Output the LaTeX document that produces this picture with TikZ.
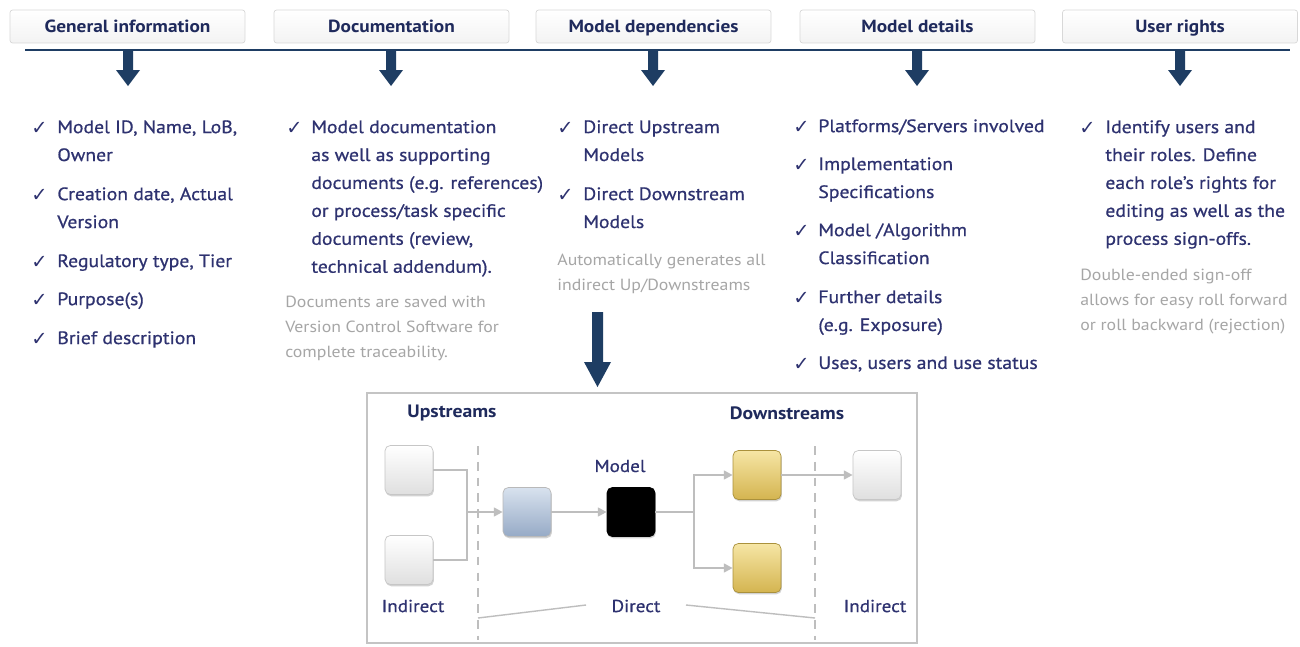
\documentclass[tikz,border=0pt]{standalone}
\usepackage{fontspec}
\setmainfont{PT Sans}[FakeStretch=1.1]
\newfontfamily\bodyf{PT Sans}[FakeStretch=1.1,FakeBold=0.7]
\newfontfamily\symf{DejaVu Sans}
\usetikzlibrary{arrows.meta,shadows}
\definecolor{navy}{HTML}{2E3270}
\definecolor{hdrtext}{HTML}{1F2A5C}
\definecolor{arrowblue}{HTML}{1E3D63}
\definecolor{notegray}{HTML}{A6A6A6}
\definecolor{hdrfill}{HTML}{F3F3F3}
\definecolor{hdrline}{HTML}{D8D8D8}
\definecolor{connc}{HTML}{BEBEBE}
\definecolor{frame}{HTML}{C4C4C4}
\begin{document}
\begin{tikzpicture}[x=0.02cm,y=-0.02cm,
  hdr/.style={draw=hdrline, top color=white, bottom color=hdrfill, rounded corners=1.5pt,
    minimum width=4.7cm, minimum height=0.66cm, inner sep=0, text height=8.2pt, text depth=1pt,
    text=hdrtext, font=\bfseries\fontsize{10}{11}\selectfont},
  item/.style={anchor=north west, inner sep=0, align=left, text=navy,
    font=\bodyf\fontsize{10.2}{15.9}\selectfont},
  note/.style={anchor=north west, inner sep=0, align=left, text=notegray,
    font=\fontsize{9.2}{14.2}\selectfont},
  chk/.style={anchor=west, inner sep=0, text=navy, font=\symf\fontsize{11}{12}\selectfont},
  fat/.style={fill=arrowblue},
  mbox/.style={rounded corners=3pt, minimum width=0.96cm, minimum height=0.98cm, inner sep=0,
    drop shadow={shadow xshift=0.5pt, shadow yshift=-1pt, opacity=0.35}},
  wbox/.style={mbox, draw=gray!45, top color=white, bottom color=gray!25},
  bbox/.style={mbox, draw=gray!55, top color={rgb,255:red,216;green,226;blue,238}, bottom color={rgb,255:red,150;green,170;blue,198}},
  kbox/.style={mbox, draw=black, fill=black},
  gbox/.style={mbox, draw={rgb,255:red,170;green,145;blue,60}, top color={rgb,255:red,246;green,230;blue,165}, bottom color={rgb,255:red,212;green,180;blue,80}},
  conn/.style={draw=connc, line width=1.1pt},
  carr/.style={conn, -{Triangle[length=5pt,width=5pt]}},
  lbl/.style={inner sep=0, text=navy, font=\bodyf\fontsize{9.9}{11}\selectfont},
  blbl/.style={inner sep=0, text=hdrtext, font=\bfseries\fontsize{10.2}{11}\selectfont}
]
\useasboundingbox (0,0) rectangle (1300,646);
\fill[white] (0,0) rectangle (1300,646);

% headers
\node[hdr] (h1) at (127.5,26.5) {General information};
\node[hdr] (h2) at (391.5,26.5) {Documentation};
\node[hdr] (h3) at (653.5,26.5) {Model dependencies};
\node[hdr] (h4) at (917.5,26.5) {Model details};
\node[hdr] (h5) at (1180,26.5) {User rights};

% rule
\draw[arrowblue, line width=1.2pt] (25,50) -- (1290,50);

% fat arrows
\foreach \ax in {128,391,653,917,1180}{
  \fill[fat] (\ax-5,51) -- (\ax+5,51) -- (\ax+5,70) -- (\ax+12,70) -- (\ax,86) -- (\ax-12,70) -- (\ax-5,70) -- cycle;
}

% column 1
\node[chk] (c1a) at (31,128) {✓};
\node[item] (t1a) at (57,120) {Model ID, Name, LoB,\\Owner};
\node[chk] (c1b) at (31,195) {✓};
\node[item] (t1b) at (57,187) {Creation date, Actual\\Version};
\node[chk] (c1c) at (31,262) {✓};
\node[item] (t1c) at (57,254) {Regulatory type, Tier};
\node[chk] (c1d) at (31,300) {✓};
\node[item] (t1d) at (57,292) {Purpose(s)};
\node[chk] (c1e) at (31,339) {✓};
\node[item] (t1e) at (57,331) {Brief description};

% column 2
\node[chk] (c2a) at (286,128) {✓};
\node[item] (t2a) at (311,120) {Model documentation\\as well as supporting\\documents (e.g. references)\\or process/task specific\\documents (review,\\technical addendum).};
\node[note] (n2) at (285,296) {Documents are saved with\\Version Control Software for\\complete traceability.};

% column 3
\node[chk] (c3a) at (557,128) {✓};
\node[item] (t3a) at (583,120) {Direct Upstream\\Models};
\node[chk] (c3b) at (557,195) {✓};
\node[item] (t3b) at (583,187) {Direct Downstream\\Models};
\node[note] (n3) at (557,254) {Automatically generates all\\indirect Up/Downstreams};

% big arrow
\fill[fat] (592,312) -- (603,312) -- (603,362) -- (611,362) -- (597.5,387) -- (584,362) -- (592,362) -- cycle;

% column 4
\node[chk] (c4a) at (793,127) {✓};
\node[item] (t4a) at (818,119) {Platforms/Servers involved};
\node[chk] (c4b) at (793,165) {✓};
\node[item] (t4b) at (818,157) {Implementation\\Specifications};
\node[chk] (c4c) at (793,231) {✓};
\node[item] (t4c) at (818,223) {Model /Algorithm\\Classification};
\node[chk] (c4d) at (793,298) {✓};
\node[item] (t4d) at (818,290) {Further details\\(e.g. Exposure)};
\node[chk] (c4e) at (793,364) {✓};
\node[item] (t4e) at (818,356) {Uses, users and use status};

% column 5
\node[chk] (c5a) at (1079,128) {✓};
\node[item] (t5a) at (1105,120) {Identify users and\\their roles. Define\\each role’s rights for\\editing as well as the\\process sign-offs.};
\node[note] (n5) at (1080,269) {Double-ended sign-off\\allows for easy roll forward\\or roll backward (rejection)};

% bottom diagram
\draw[frame, fill=white, line width=0.8pt] (367,393) rectangle (917,643);
\node[blbl] (up) at (452,413) {Upstreams};
\node[blbl] (down) at (787,413) {Downstreams};
\node[lbl] (mlbl) at (620,466) {Model};
\node[lbl] (ind1) at (413,606) {Indirect};
\node[lbl] (dir) at (636,606) {Direct};
\node[lbl] (ind2) at (875,606) {Indirect};

\draw[connc, dashed, dash pattern=on 5pt off 4pt, line width=0.7pt] (478,446) -- (478,640);
\draw[connc, dashed, dash pattern=on 5pt off 4pt, line width=0.7pt] (815,446) -- (815,640);

\node[wbox] (u1) at (409,470) {};
\node[wbox] (u2) at (409,560) {};
\node[bbox] (bl) at (527,512) {};
\node[kbox] (mdl) at (631,512) {};
\node[gbox] (g1) at (757,475) {};
\node[gbox] (g2) at (757,568) {};
\node[wbox] (w3) at (877,475) {};

\coordinate (j1) at (467,512);
\coordinate (j2) at (694,512);
\draw[conn] (u1.east) -| (j1);
\draw[conn] (u2.east) -| (j1);
\draw[carr] (j1) -- (bl.west);
\draw[carr] (bl.east) -- (mdl.west);
\draw[conn] (mdl.east) -- (j2);
\draw[carr] (j2) |- (g1.west);
\draw[carr] (j2) |- (g2.west);
\draw[carr] (g1.east) -- (w3.west);

\draw[connc, line width=0.8pt] (478,618) -- (586,605);
\draw[connc, line width=0.8pt] (686,605) -- (815,618);
\end{tikzpicture}
\end{document}
